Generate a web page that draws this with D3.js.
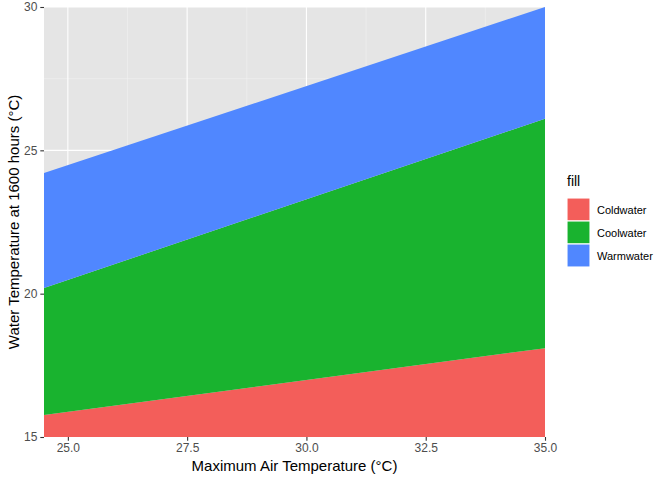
<!DOCTYPE html>
<html>
<head>
<meta charset="utf-8">
<script src="https://cdn.jsdelivr.net/npm/d3@7"></script>
<style>
  body { margin: 0; background: #fff; }
  text { font-family: "Liberation Sans", Arial, sans-serif; }
</style>
</head>
<body>
<svg id="chart" width="672" height="480"></svg>
<script>
// data (straight ribbons, endpoints only)
const airTemp = [24.5, 35];
const coldLow = [15, 15];
const coldHigh = [15.77, 18.1];
const coolHigh = [20.2, 26.1];
const warmHigh = [24.21, 30];

const groups = ["Coldwater", "Coolwater", "Warmwater"];
const groupColors = ["#f35e5a", "#19b32f", "#5087ff"];

const xTicks = [25, 27.5, 30, 32.5, 35];
const xMinor = [26.25, 28.75, 31.25, 33.75];
const yTicks = [15, 20, 25, 30];
const yMinor = [17.5, 22.5, 27.5];

const ribbons = [
  { name: groups[0], lo: coldLow, hi: coldHigh },
  { name: groups[1], lo: coldHigh, hi: coolHigh },
  { name: groups[2], lo: coolHigh, hi: warmHigh }
];

const svg = d3.select("#chart");
const panel = { left: 44, right: 545, top: 7, bottom: 437 };

const x = d3.scaleLinear().domain([24.5, 35]).range([panel.left, panel.right]);
const y = d3.scaleLinear().domain([15, 30]).range([panel.bottom, panel.top]);

// panel background
svg.append("rect")
  .attr("x", panel.left).attr("y", panel.top)
  .attr("width", panel.right - panel.left)
  .attr("height", panel.bottom - panel.top)
  .attr("fill", "#e5e5e5");

const grid = svg.append("g");
grid.selectAll(".xminor").data(xMinor).enter().append("line")
  .attr("x1", d => x(d)).attr("x2", d => x(d))
  .attr("y1", panel.top).attr("y2", panel.bottom)
  .attr("stroke", "#f2f2f2").attr("stroke-width", 0.55);
grid.selectAll(".yminor").data(yMinor).enter().append("line")
  .attr("y1", d => y(d)).attr("y2", d => y(d))
  .attr("x1", panel.left).attr("x2", panel.right)
  .attr("stroke", "#f2f2f2").attr("stroke-width", 0.55);
grid.selectAll(".xmajor").data(xTicks).enter().append("line")
  .attr("x1", d => x(d)).attr("x2", d => x(d))
  .attr("y1", panel.top).attr("y2", panel.bottom)
  .attr("stroke", "#fff").attr("stroke-width", 1.1);
grid.selectAll(".ymajor").data(yTicks).enter().append("line")
  .attr("y1", d => y(d)).attr("y2", d => y(d))
  .attr("x1", panel.left).attr("x2", panel.right)
  .attr("stroke", "#fff").attr("stroke-width", 1.1);

// ribbons
const area = d3.area()
  .x((d, i) => x(airTemp[i]))
  .y0(d => y(d[0]))
  .y1(d => y(d[1]));

svg.append("g").selectAll("path")
  .data(ribbons)
  .enter()
  .append("path")
  .attr("d", r => area(airTemp.map((t, i) => [r.lo[i], r.hi[i]])))
  .attr("fill", (r, i) => groupColors[i]);

// axes
const xAxis = svg.append("g")
  .attr("transform", `translate(0,${panel.bottom})`)
  .call(d3.axisBottom(x).tickValues(xTicks).tickFormat(d3.format(".1f")).tickSizeOuter(0).tickSize(3.7).tickPadding(3));
const yAxis = svg.append("g")
  .attr("transform", `translate(${panel.left},0)`)
  .call(d3.axisLeft(y).tickValues(yTicks).tickSizeOuter(0).tickSize(3.7).tickPadding(3));

[xAxis, yAxis].forEach(ax => {
  ax.select(".domain").remove();
  ax.selectAll(".tick line").attr("stroke", "#333").attr("stroke-width", 1.1);
  ax.selectAll(".tick text").attr("fill", "#4d4d4d").style("font-size", "12px")
    .style("font-family", "'Liberation Sans', Arial, sans-serif");
});

// axis titles
svg.append("text")
  .attr("x", (panel.left + panel.right) / 2).attr("y", 471)
  .attr("text-anchor", "middle")
  .style("font-size", "15px")
  .text("Maximum Air Temperature (°C)");

svg.append("text")
  .attr("transform", `translate(19,${(panel.top + panel.bottom) / 2}) rotate(-90)`)
  .attr("text-anchor", "middle")
  .style("font-size", "15px")
  .text("Water Temperature at 1600 hours (°C)");

// legend
const legend = svg.append("g").attr("transform", "translate(567,176)");
legend.append("text").attr("x", 0).attr("y", 10)
  .style("font-size", "14px").text("fill");

const item = legend.selectAll(".item").data(groups).enter().append("g")
  .attr("transform", (d, i) => `translate(0,${22 + i * 23})`);
item.append("rect")
  .attr("width", 23).attr("height", 23)
  .attr("fill", (d, i) => groupColors[i])
  .attr("stroke", "#fff").attr("stroke-width", 1.1);
item.append("text")
  .attr("x", 30).attr("y", 15.5)
  .style("font-size", "11px")
  .text(d => d);
</script>
</body>
</html>
